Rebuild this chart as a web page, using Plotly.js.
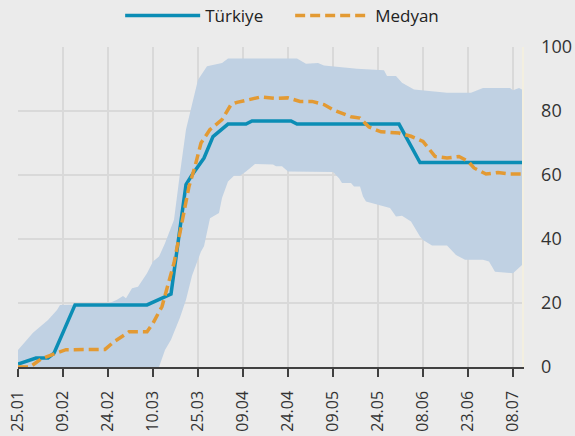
<!DOCTYPE html>
<html>
<head>
<meta charset="utf-8">
<script src="https://cdn.plot.ly/plotly-3.0.1.min.js"></script>
<style>html,body{margin:0;padding:0;background:#ebebeb;}#chart{width:575px;height:436px;}</style>
</head>
<body>
<div id="chart"></div>
<script>
// Türkiye
const turDates = ['2020-01-25','2020-01-31','2020-02-04','2020-02-06','2020-02-13','2020-03-08','2020-03-16','2020-03-21','2020-03-23','2020-03-27','2020-03-30','2020-04-04','2020-04-10','2020-04-12','2020-04-25','2020-04-27','2020-05-31','2020-06-07','2020-07-11'];
const turValues = [0.9,2.8,2.8,4.3,19.4,19.4,22.8,57.0,60.0,65.3,72.0,75.9,75.9,76.9,76.9,75.9,75.9,63.9,63.9];

// Medyan
const medDates = ['2020-01-25','2020-01-29','2020-02-02','2020-02-07','2020-02-10','2020-02-23','2020-02-26','2020-03-02','2020-03-08','2020-03-10','2020-03-13','2020-03-17','2020-03-19','2020-03-22','2020-03-24','2020-03-26','2020-03-29','2020-04-02','2020-04-05','2020-04-07','2020-04-15','2020-04-20','2020-04-24','2020-04-28','2020-05-02','2020-05-06','2020-05-09','2020-05-12','2020-05-15','2020-05-18','2020-05-21','2020-05-25','2020-05-31','2020-06-04','2020-06-08','2020-06-12','2020-06-16','2020-06-20','2020-06-23','2020-06-25','2020-06-29','2020-07-03','2020-07-07','2020-07-11'];
const medValues = [0,0,2.7,4.3,5.4,5.5,7.9,11,11,13.7,18.9,32.5,42.5,56.4,62.7,70.0,74.2,77.3,82.0,82.7,84.4,83.9,84.1,83.0,83.0,82.0,80.4,79.4,78.2,77.8,75.0,73.5,73.1,72.1,70.5,65.8,65.3,65.8,64.3,62.2,60.3,60.8,60.3,60.3];

// Upper band
const upDates = ['2020-01-25','2020-01-28','2020-01-30','2020-02-04','2020-02-07','2020-02-08','2020-02-14','2020-02-24','2020-02-27','2020-02-29','2020-03-01','2020-03-03','2020-03-05','2020-03-08','2020-03-10','2020-03-12','2020-03-14','2020-03-17','2020-03-19','2020-03-21','2020-03-23','2020-03-25','2020-03-28','2020-04-02','2020-04-04','2020-04-27','2020-04-30','2020-05-04','2020-05-06','2020-05-17','2020-05-26','2020-05-27','2020-05-30','2020-06-01','2020-06-05','2020-06-12','2020-06-16','2020-06-24','2020-06-28','2020-07-07','2020-07-08','2020-07-10','2020-07-11'];
const upValues = [5.3,8.5,10.7,14.7,17.8,19.4,19.6,19.8,21,22.2,21.5,24.6,25.1,29.3,33,34.5,38.7,46,60.6,74.2,82,89.8,94,95,96.4,96.4,94.8,95,94.2,93.2,92.7,90.9,90.9,88.8,86.7,86.2,85.7,85.7,87.2,87.2,86.5,87.2,86.7];

// Lower band
const loDates = ['2020-01-25','2020-03-12','2020-03-14','2020-03-16','2020-03-19','2020-03-21','2020-03-23','2020-03-26','2020-03-27','2020-03-29','2020-04-01','2020-04-02','2020-04-04','2020-04-06','2020-04-08','2020-04-10','2020-04-13','2020-04-19','2020-04-20','2020-04-22','2020-04-24','2020-05-09','2020-05-11','2020-05-12','2020-05-15','2020-05-16','2020-05-18','2020-05-19','2020-05-20','2020-05-24','2020-05-28','2020-05-30','2020-06-01','2020-06-04','2020-06-07','2020-06-08','2020-06-11','2020-06-16','2020-06-19','2020-06-22','2020-06-28','2020-06-30','2020-07-02','2020-07-08','2020-07-11'];
const loValues = [0,0,5.3,8.5,15.5,21,28.5,36.1,37.7,46.5,48.1,52.8,58,59.8,59.8,61.1,63.4,63.3,62.7,62.7,61.1,60.9,59,57.5,57.5,56.4,56.4,53.3,51.7,50.7,49.7,47,47.3,45.5,40.8,39.7,38,38,35,33.5,33.5,33,29.8,29.3,31.9];

const tickVals = ['2020-01-25','2020-02-09','2020-02-24','2020-03-10','2020-03-25','2020-04-09','2020-04-24','2020-05-09','2020-05-24','2020-06-08','2020-06-23','2020-07-08'];
const tickText = ['25.01','09.02','24.02','10.03','25.03','09.04','24.04','09.05','24.05','08.06','23.06','08.07'];

const traces = [
  {x: loDates, y: loValues, type:'scatter', mode:'lines', line:{width:0, color:'rgba(0,0,0,0)'}, showlegend:false, hoverinfo:'skip'},
  {x: upDates, y: upValues, type:'scatter', mode:'lines', line:{width:0, color:'rgba(0,0,0,0)'}, fill:'tonexty', fillcolor:'#c0d1e3', showlegend:false, hoverinfo:'skip'},
  {x: turDates, y: turValues, type:'scatter', mode:'lines', name:'Türkiye', line:{color:'#0b8db5', width:3.5}},
  {x: medDates, y: medValues, type:'scatter', mode:'lines', name:'Medyan', line:{color:'#e39a33', width:3.5, dash:'10px,5px'}}
];

const layout = {
  width:575, height:436,
  paper_bgcolor:'#ebebeb', plot_bgcolor:'#ebebeb',
  margin:{l:18, r:53, t:47, b:69, autoexpand:false},
  font:{family:'Open Sans, sans-serif', size:16, color:'#333'},
  showlegend:true,
  legend:{orientation:'h', traceorder:'normal', x:0.54, xanchor:'center', y:1.097, yanchor:'middle', font:{size:17, color:'#222'}, bgcolor:'rgba(0,0,0,0)', itemwidth:75, entrywidth:80},
  xaxis:{type:'date', range:['2020-01-25','2020-07-11'], tickmode:'array', tickvals:tickVals, ticktext:tickText, tickangle:-90, ticks:'outside', ticklen:8, tickcolor:'#404040', tickwidth:1.5, ticklabelstandoff:8, showline:true, linecolor:'#404040', linewidth:1.5, showgrid:true, gridcolor:'#d9d9d9', gridwidth:1.2, zeroline:false, tickfont:{size:16, color:'#333'}, fixedrange:true},
  yaxis:{side:'right', range:[0,100], dtick:20, showgrid:true, gridcolor:'#d9d9d9', gridwidth:1.2, zeroline:false, showline:true, linecolor:'#f3efe0', linewidth:1.5, ticks:'', ticklabelstandoff:14, tickfont:{size:18, color:'#333'}, fixedrange:true}
};

Plotly.newPlot('chart', traces, layout, {displayModeBar:false, staticPlot:true});
</script>
</body>
</html>
